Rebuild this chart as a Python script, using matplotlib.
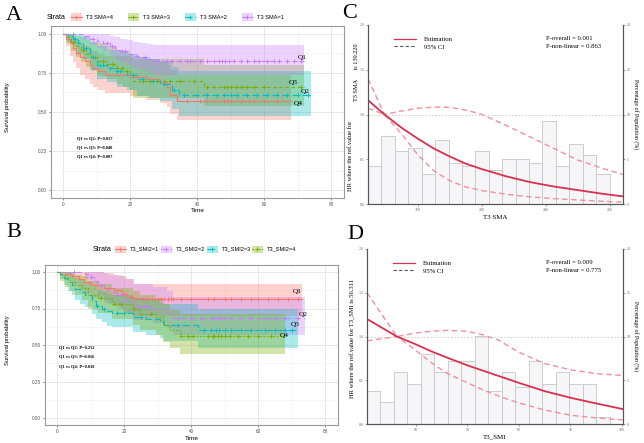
import numpy as np
import matplotlib
matplotlib.use('Agg')
import matplotlib.pyplot as plt
from matplotlib.lines import Line2D
from matplotlib.patches import Rectangle

W, H = 644, 443
RED, GREEN, CYAN, PURPLE = '#F8766D', '#7CAE00', '#00BFC4', '#C77CFF'
SANS = ['Liberation Sans', 'DejaVu Sans']
SERIF = ['Liberation Serif', 'DejaVu Serif']

# ---------------- panel A : T3 SMA quartiles ----------------
a_q4_t = [0, 1, 2, 3, 4, 5, 6.5, 8, 9, 10.5, 12.5, 20, 25, 29, 31, 32, 34]
a_q4_s = [1.0, 0.97, 0.94, 0.91, 0.88, 0.855, 0.83, 0.80, 0.78, 0.76, 0.74, 0.727, 0.71, 0.69, 0.66, 0.61, 0.573]
a_q4_lo = [1.0, 0.92, 0.86, 0.82, 0.78, 0.74, 0.71, 0.68, 0.66, 0.64, 0.62, 0.60, 0.58, 0.56, 0.53, 0.49, 0.45]
a_q4_hi = [1.0, 1.0, 1.0, 0.98, 0.96, 0.94, 0.92, 0.90, 0.89, 0.87, 0.86, 0.85, 0.84, 0.82, 0.80, 0.77, 0.74]
a_q4_end = 68
a_q4_cens = [22, 26, 37, 41, 43, 45, 48, 49, 50, 53, 55.5, 57, 60, 64]

a_q3_t = [0, 1, 2.5, 4, 5.5, 7, 8.5, 10, 13, 16, 18, 20, 21, 42]
a_q3_s = [1.0, 0.98, 0.95, 0.92, 0.90, 0.87, 0.85, 0.83, 0.81, 0.78, 0.76, 0.74, 0.70, 0.66]
a_q3_lo = [1.0, 0.94, 0.89, 0.85, 0.82, 0.79, 0.76, 0.73, 0.71, 0.68, 0.66, 0.64, 0.59, 0.54]
a_q3_hi = [1.0, 1.0, 1.0, 0.99, 0.98, 0.96, 0.95, 0.94, 0.92, 0.90, 0.89, 0.87, 0.84, 0.80]
a_q3_end = 72
a_q3_cens = [3, 6, 9.5, 12, 14.5, 16, 17.5, 19, 24, 26, 28, 32, 35, 39, 43, 45, 48, 49, 50, 51.5, 53, 55, 57, 60, 71]

a_q2_t = [0, 1.5, 3, 4.5, 6, 8, 10, 13, 16, 19, 22, 26, 29, 32.5, 34.5]
a_q2_s = [1.0, 0.985, 0.97, 0.94, 0.91, 0.85, 0.80, 0.78, 0.76, 0.74, 0.71, 0.70, 0.68, 0.64, 0.61]
a_q2_lo = [1.0, 0.95, 0.92, 0.88, 0.84, 0.77, 0.71, 0.69, 0.66, 0.64, 0.60, 0.59, 0.57, 0.52, 0.475]
a_q2_hi = [1.0, 1.0, 1.0, 1.0, 0.99, 0.95, 0.92, 0.90, 0.89, 0.87, 0.85, 0.84, 0.82, 0.79, 0.76]
a_q2_end = 74
a_q2_cens = [3.5, 7, 9, 11, 12, 14, 16, 17, 21, 24, 27, 30, 33, 36, 40, 43, 46, 48, 50, 52, 55, 58, 61, 64, 67, 70, 73]

a_q1_t = [0, 6, 8, 10, 12, 14, 15.5, 17, 19, 21, 23, 25, 27]
a_q1_s = [1.0, 0.985, 0.97, 0.955, 0.94, 0.92, 0.90, 0.89, 0.87, 0.86, 0.85, 0.84, 0.83]
a_q1_lo = [1.0, 0.96, 0.93, 0.91, 0.89, 0.86, 0.84, 0.82, 0.80, 0.78, 0.77, 0.75, 0.74]
a_q1_hi = [1.0, 1.0, 1.0, 1.0, 1.0, 0.99, 0.98, 0.97, 0.96, 0.95, 0.94, 0.935, 0.93]
a_q1_end = 72
a_q1_cens = [3, 9, 13, 14.5, 17.5, 18.5, 22, 24.5, 28, 31, 32.5, 35, 37, 38, 41, 43, 45, 46.5, 47.5,
             48.5, 49.5, 51, 53, 55, 57, 58.5, 61, 63, 64.5, 67, 69, 71]

a_pvals = ['Q1 vs Q2: P=0.017', 'Q1 vs Q3: P=0.040', 'Q1 vs Q4: P=0.007']

# ---------------- panel B : T3 SMI quartiles ----------------
b_q1_t = [0, 2.5, 4.5, 6.5, 8, 10, 14, 17, 19.5, 21, 23]
b_q1_s = [1.0, 0.985, 0.97, 0.95, 0.93, 0.91, 0.89, 0.875, 0.85, 0.83, 0.815]
b_q1_lo = [1.0, 0.95, 0.92, 0.88, 0.85, 0.82, 0.79, 0.77, 0.74, 0.72, 0.70]
b_q1_hi = [1.0, 1.0, 1.0, 1.0, 1.0, 1.0, 0.99, 0.98, 0.97, 0.95, 0.92]
b_q1_end = 73
b_q1_cens = [22, 24, 25.5, 27, 28.5, 30, 31, 32, 33, 34, 34.5, 37, 40, 45, 47, 50, 52, 55, 58, 60, 63, 66, 69, 72]

b_q2_t = [0, 8.3, 9.3, 11, 12.3, 14, 15.3, 17.8, 20, 22.7, 28.6, 32.7, 34.6]
b_q2_s = [1.0, 0.985, 0.966, 0.94, 0.91, 0.885, 0.86, 0.84, 0.81, 0.77, 0.75, 0.72, 0.683]
b_q2_lo = [1.0, 0.95, 0.92, 0.88, 0.84, 0.81, 0.78, 0.75, 0.72, 0.67, 0.65, 0.61, 0.57]
b_q2_hi = [1.0, 1.0, 1.0, 1.0, 1.0, 0.99, 0.98, 0.97, 0.95, 0.92, 0.90, 0.87, 0.83]
b_q2_end = 74
b_q2_cens = [5, 10, 13, 18, 20, 24, 26, 27, 36, 40, 43, 46, 47, 48, 49, 50, 52, 55, 58, 62, 65, 68, 72]

b_q3_t = [0, 0.9, 2, 3.4, 4.5, 5.4, 7, 8.3, 10.3, 11.5, 13.3, 15, 16.3, 22.7, 26.7, 30.6, 32, 42]
b_q3_s = [1.0, 0.985, 0.96, 0.93, 0.91, 0.885, 0.86, 0.84, 0.80, 0.77, 0.75, 0.73, 0.717, 0.694, 0.68, 0.66, 0.64, 0.60]
b_q3_lo = [1.0, 0.95, 0.91, 0.87, 0.84, 0.81, 0.78, 0.76, 0.71, 0.68, 0.66, 0.63, 0.62, 0.59, 0.57, 0.55, 0.53, 0.48]
b_q3_hi = [1.0, 1.0, 1.0, 0.99, 0.98, 0.96, 0.95, 0.93, 0.90, 0.88, 0.86, 0.85, 0.84, 0.82, 0.81, 0.79, 0.78, 0.75]
b_q3_end = 72
b_q3_cens = [12, 14, 18, 20, 25, 36, 44, 46, 47.5, 48.5, 50, 52, 55, 58, 62, 65, 68, 70]

b_q4_t = [0, 1, 2.4, 4, 5.4, 7.4, 9.3, 12.3, 16.3, 22.6, 24.7, 29.6, 31.6, 33.6, 36.6]
b_q4_s = [1.0, 0.98, 0.955, 0.93, 0.91, 0.89, 0.84, 0.82, 0.78, 0.75, 0.71, 0.69, 0.64, 0.60, 0.564]
b_q4_lo = [1.0, 0.94, 0.90, 0.87, 0.84, 0.81, 0.75, 0.72, 0.68, 0.64, 0.60, 0.57, 0.52, 0.48, 0.44]
b_q4_hi = [1.0, 1.0, 1.0, 0.99, 0.98, 0.97, 0.94, 0.92, 0.89, 0.87, 0.84, 0.82, 0.78, 0.74, 0.71]
b_q4_end = 68
b_q4_cens = [13, 17, 19, 23, 28, 37, 39, 40.5, 45, 46.5, 47, 48, 49, 50, 51.5, 54, 57, 60, 64]

b_pvals = ['Q1 vs Q2: P=0.252', 'Q1 vs Q3: P=0.016', 'Q1 vs Q4: P=0.018']

# ---------------- panel C : RCS for T3 SMA ----------------
sma_x = [128.9, 139.2, 150, 160, 170, 180, 190, 200, 215, 230, 245, 260, 275, 288.1]
sma_est = [1.16, 1.00, 0.85, 0.73, 0.62, 0.53, 0.45, 0.39, 0.31, 0.245, 0.195, 0.155, 0.115, 0.085]
sma_hi = [1.40, 1.00, 1.04, 1.07, 1.083, 1.08, 1.05, 1.00, 0.88, 0.75, 0.62, 0.49, 0.40, 0.33]
sma_lo = [1.07, 1.00, 0.78, 0.55, 0.37, 0.26, 0.19, 0.15, 0.11, 0.08, 0.06, 0.045, 0.03, 0.02]
sma_pct = [4.2, 7.6, 5.9, 6.3, 3.4, 7.2, 4.6, 4.2, 5.9, 3.8, 5.0, 5.0, 4.6, 9.3, 4.2, 6.7, 5.5, 3.4, 0]
sma_range = (128.9, 288.1)

# ---------------- panel D : RCS for T3 SMI ----------------
smi_x = [50.5, 56.3, 60, 63, 66, 70, 73, 76, 80, 85, 90, 95, 100.2]
smi_est = [1.20, 1.00, 0.91, 0.83, 0.76, 0.67, 0.61, 0.55, 0.47, 0.375, 0.30, 0.235, 0.17]
smi_hi = [1.50, 1.00, 1.04, 1.06, 1.07, 1.06, 1.02, 0.96, 0.82, 0.69, 0.62, 0.575, 0.555]
smi_lo = [0.95, 1.00, 0.84, 0.70, 0.58, 0.47, 0.39, 0.32, 0.24, 0.16, 0.10, 0.07, 0.046]
smi_pct = [3.8, 2.5, 5.9, 4.6, 8.0, 5.9, 7.2, 7.2, 10.1, 3.8, 5.9, 4.2, 7.2, 4.6, 5.9, 4.6, 4.6, 0.8, 0]
smi_range = (50.5, 100.2)


fig = plt.figure(figsize=(W / 100, H / 100), dpi=100)


def px_axes(l, t, r, b):
    return fig.add_axes([l / W, 1 - b / H, (r - l) / W, (b - t) / H])


def km_axes(ax):
    ax.set_xlim(-3.5, 84)
    ax.set_ylim(-0.05, 1.05)
    ax.set_xticks([0, 20, 40, 60, 80])
    ax.set_xticks([10, 30, 50, 70], minor=True)
    ax.set_yticks([0, 0.25, 0.5, 0.75, 1.0])
    ax.set_yticks([0.125, 0.375, 0.625, 0.875], minor=True)
    ax.set_yticklabels(['0.00', '0.25', '0.50', '0.75', '1.00'])
    ax.grid(which='major', color='#e4e4e4', lw=0.6)
    ax.grid(which='minor', color='#f0f0f0', lw=0.4)
    ax.set_axisbelow(True)
    for sp in ax.spines.values():
        sp.set_color('#9a9a9a')
        sp.set_linewidth(0.8)
    ax.tick_params(which='major', length=1.5, width=0.5, color='#555555', labelsize=3.4,
                   labelcolor='#555555', pad=1.5)
    ax.tick_params(which='minor', length=0)
    for lb in ax.get_xticklabels() + ax.get_yticklabels():
        lb.set_family(SANS)
    ax.set_xlabel('Time', fontsize=4.6, family=SANS, labelpad=1)


def km_group(ax, t, s, lo, hi, end, cens, color, dashes):
    tt = list(t) + [end]
    ss = list(s) + [s[-1]]
    ax.fill_between(tt, list(lo) + [lo[-1]], list(hi) + [hi[-1]], step='post',
                    color=color, alpha=0.33, lw=0, zorder=1)
    ln, = ax.step(tt, ss, where='post', color=color, lw=0.8, zorder=3)
    if dashes:
        ln.set_dashes(dashes)
    cy = [ss[np.searchsorted(tt, c, side='right') - 1] for c in cens]
    ax.plot(cens, cy, ls='none', marker='+', ms=3.2, mew=0.7, color=color, zorder=4)


# ---- A ----
axA = px_axes(51.3, 26.2, 344.4, 197.8)
km_axes(axA)
groupsA = [(a_q4_t, a_q4_s, a_q4_lo, a_q4_hi, a_q4_end, a_q4_cens, RED, None),
           (a_q3_t, a_q3_s, a_q3_lo, a_q3_hi, a_q3_end, a_q3_cens, GREEN, (3, 2.5)),
           (a_q2_t, a_q2_s, a_q2_lo, a_q2_hi, a_q2_end, a_q2_cens, CYAN, (6, 3)),
           (a_q1_t, a_q1_s, a_q1_lo, a_q1_hi, a_q1_end, a_q1_cens, PURPLE, (4, 3))]
for g in groupsA:
    km_group(axA, *g)
for lab, (x, y) in zip(['Q1', 'Q3', 'Q2', 'Q4'], [(71.3, 0.85), (68.7, 0.686), (72.2, 0.63), (70.1, 0.556)]):
    axA.text(x, y, lab, fontsize=5.3, family=SERIF, ha='center', va='center', zorder=5)
for i, p in enumerate(a_pvals):
    axA.text(4.2, 0.333 - i * 0.058, p, fontsize=3.2, family=SERIF, weight='bold', va='center')

# ---- B ----
axB = px_axes(45.3, 264.7, 338.4, 425.3)
km_axes(axB)
groupsB = [(b_q1_t, b_q1_s, b_q1_lo, b_q1_hi, b_q1_end, b_q1_cens, RED, None),
           (b_q2_t, b_q2_s, b_q2_lo, b_q2_hi, b_q2_end, b_q2_cens, PURPLE, (5, 3.5)),
           (b_q3_t, b_q3_s, b_q3_lo, b_q3_hi, b_q3_end, b_q3_cens, CYAN, (7, 3)),
           (b_q4_t, b_q4_s, b_q4_lo, b_q4_hi, b_q4_end, b_q4_cens, GREEN, (1.5, 1.5))]
for g in groupsB:
    km_group(axB, *g)
for lab, (x, y) in zip(['Q1', 'Q2', 'Q3', 'Q4'], [(71.8, 0.865), (73.5, 0.712), (71.0, 0.637), (67.8, 0.564)]):
    axB.text(x, y, lab, fontsize=5.3, family=SERIF, ha='center', va='center', zorder=5)
for i, p in enumerate(b_pvals):
    axB.text(0.6, 0.486 - i * 0.065, p, fontsize=3.2, family=SERIF, weight='bold', va='center')


# ---- C / D (restricted cubic spline plots) ----
def rcs_panel(rect, xr, x, est, hi, lo, pct, xticks, xlabel, pover, pnl):
    ax = px_axes(*rect)
    ax2 = ax.twinx()
    edges = np.linspace(xr[0], xr[1], len(pct) + 1)
    ax2.bar(edges[:-1], pct, width=np.diff(edges), align='edge', color='#f6f6f8',
            edgecolor='#c6c6c6', lw=0.6)
    ax2.set_ylim(0, 20)
    ax.set_zorder(ax2.get_zorder() + 1)
    ax.patch.set_visible(False)
    ax.axhline(1.0, color='#c8c8c8', lw=0.6, dashes=(2, 2))
    ax.plot(x, hi, color='#f2909f', lw=1.0, dashes=(4, 2.5))
    ax.plot(x, lo, color='#f2909f', lw=1.0, dashes=(4, 2.5))
    ax.plot(x, est, color='#d9304f', lw=1.3)
    ax.set_xlim(*xr)
    ax.set_ylim(0, 2)
    ax.set_xticks(xticks)
    ax.set_yticks([0, 0.5, 1.0, 1.5, 2.0])
    ax.set_yticklabels(['0.0', '0.5', '1.0', '1.5', '2.0'])
    ax2.set_yticks([0, 5, 10, 15, 20])
    for a in (ax, ax2):
        a.spines['top'].set_visible(False)
        for sp in ('left', 'right', 'bottom'):
            a.spines[sp].set_color('#555555')
            a.spines[sp].set_linewidth(0.8)
        a.tick_params(length=1.5, width=0.5, color='#777777', labelsize=2.8,
                      labelcolor='#666666', pad=1.2)
        for lb in a.get_xticklabels() + a.get_yticklabels():
            lb.set_family(SERIF)
    ax.set_xlabel(xlabel, fontsize=5, family=SERIF, labelpad=2)
    ax2.set_ylabel('Percentage of Population (%)', fontsize=4.2, family=SERIF, rotation=270, labelpad=6)
    hnd = [Line2D([], [], color='#d9304f', lw=0.9),
           Line2D([], [], color='#555555', lw=0.8, dashes=(3, 2))]
    ax.legend(hnd, ['Estimation', '95% CI'], loc='upper left', bbox_to_anchor=(0.08, 0.97),
              frameon=False, prop={'family': SERIF, 'size': 4.8}, handlelength=3.2,
              labelspacing=0.3, handletextpad=1.2)
    ax.text(0.70, 0.925, 'P-overall = ' + pover, transform=ax.transAxes, fontsize=4.8,
            family=SERIF, va='center')
    ax.text(0.70, 0.88, 'P-non-linear = ' + pnl, transform=ax.transAxes, fontsize=4.8,
            family=SERIF, va='center')
    return ax


rcs_panel((368, 25, 623, 204), sma_range, sma_x, sma_est, sma_hi, sma_lo, sma_pct,
          [160, 200, 240, 280], 'T3 SMA', '0.001', '0.863')
rcs_panel((367, 249, 623, 424), smi_range, smi_x, smi_est, smi_hi, smi_lo, smi_pct,
          [60, 70, 80, 90, 100], 'T3_SMI', '0.009', '0.775')

# ---- overlay: panel letters, axis titles, strata legends ----
ov = fig.add_axes([0, 0, 1, 1])
ov.set_xlim(0, W)
ov.set_ylim(H, 0)
ov.axis('off')

for lab, (x, y) in zip('ABCD', [(14, 15), (14, 232), (350, 13), (355, 234)]):
    ov.text(x, y, lab, fontsize=16, family=SERIF, ha='center', va='center')

for y in (107, 340):
    ov.text(8, y, 'Survival probability', fontsize=4.2, family=SANS, rotation=90,
            ha='center', va='center')

ov.text(350.5, 156, 'HR where the ref.value for', fontsize=4.7, family=SERIF, rotation=90,
        ha='center', va='center')
ov.text(356.5, 72, 'T3 SMA      is 139.220', fontsize=4.5, family=SERIF, rotation=90,
        ha='center', va='center')
ov.text(353, 338, 'HR where the ref.value for T3_SMI is 56.311', fontsize=4.7, family=SERIF,
        rotation=90, ha='center', va='center')

strata_a = [('T3 SMA=4', RED, None, 71), ('T3 SMA=3', GREEN, (3, 2.5), 128),
            ('T3 SMA=2', CYAN, (6, 3), 185), ('T3 SMA=1', PURPLE, (4, 3), 242)]
strata_b = [('T3_SMI2=1', RED, None, 115), ('T3_SMI2=2', PURPLE, (5, 3.5), 161),
            ('T3_SMI2=3', CYAN, (7, 3), 207), ('T3_SMI2=4', GREEN, (1.5, 1.5), 252)]


def strata_legend(items, xs, yc):
    ov.text(xs, yc, 'Strata', fontsize=5, family=SANS, va='center')
    for lab, col, dsh, x0 in items:
        ov.add_patch(Rectangle((x0, yc - 3.7), 11, 7.4, facecolor=col, alpha=0.33, lw=0))
        ln, = ov.plot([x0, x0 + 11], [yc, yc], color=col, lw=0.8)
        if dsh:
            ln.set_dashes(dsh)
        ov.plot([x0 + 5.5], [yc], marker='+', ms=3.2, mew=0.7, color=col)
        ov.text(x0 + 15, yc, lab, fontsize=4.1, family=SANS, va='center')


strata_legend(strata_a, 46.5, 17)
strata_legend(strata_b, 93, 249.3)

fig.savefig('out.png', dpi=100)
